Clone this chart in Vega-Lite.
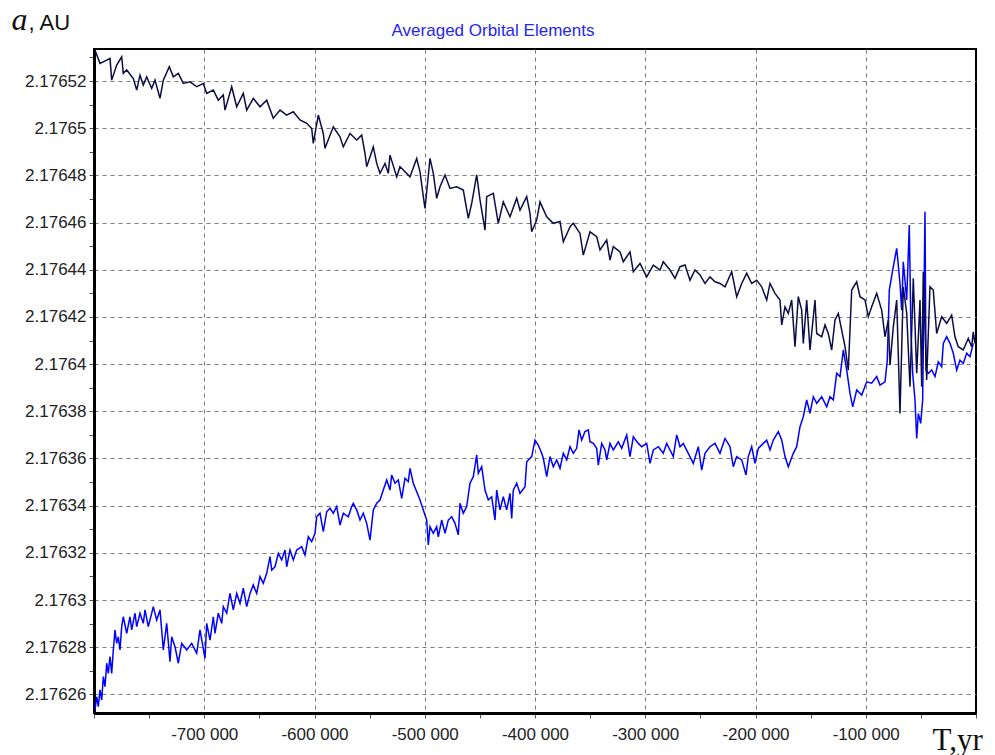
{
"$schema": "https://vega.github.io/schema/vega-lite/v6.json",
"width": 882, "height": 664,
"autosize": "none",
"padding": {"left": 94, "top": 49, "right": 19, "bottom": 42},
"background": "white",
"title": {"text": "Averaged Orbital Elements", "color": "#2626f2", "font": "Liberation Sans", "fontSize": 17, "fontWeight": "normal", "anchor": "middle", "offset": -37, "dx": -42},
"datasets": {
"dark": [
{"t":-799100,"a":2.1765331},{"t":-794560,"a":2.1765275},{"t":-788480,"a":2.1765289},{"t":-785490,"a":2.1765296},{"t":-783950,"a":2.1765204},{"t":-779410,"a":2.1765268},{"t":-774880,"a":2.1765303},{"t":-773420,"a":2.1765233},{"t":-770340,"a":2.1765247},{"t":-764360,"a":2.1765211},{"t":-761270,"a":2.1765162},{"t":-758280,"a":2.1765225},{"t":-755280,"a":2.1765183},{"t":-752200,"a":2.1765218},{"t":-747670,"a":2.1765169},{"t":-744670,"a":2.1765204},{"t":-740140,"a":2.1765127},{"t":-737140,"a":2.1765204},{"t":-731700,"a":2.1765261},{"t":-728070,"a":2.1765218},{"t":-723540,"a":2.1765233},{"t":-719000,"a":2.176519},{"t":-712930,"a":2.1765197},{"t":-706850,"a":2.1765176},{"t":-700860,"a":2.176519},{"t":-697780,"a":2.1765148},{"t":-691790,"a":2.1765162},{"t":-687260,"a":2.1765119},{"t":-682720,"a":2.1765141},{"t":-681180,"a":2.1765077},{"t":-675100,"a":2.1765176},{"t":-670570,"a":2.1765091},{"t":-664580,"a":2.1765148},{"t":-661500,"a":2.1765077},{"t":-655510,"a":2.1765127},{"t":-649430,"a":2.1765091},{"t":-643360,"a":2.1765119},{"t":-637370,"a":2.1765042},{"t":-631290,"a":2.1765077},{"t":-625220,"a":2.1765056},{"t":-619230,"a":2.176507},{"t":-613150,"a":2.1765035},{"t":-607080,"a":2.1765021},{"t":-602540,"a":2.1764999},{"t":-601090,"a":2.1764936},{"t":-596550,"a":2.1765056},{"t":-592020,"a":2.1764978},{"t":-590480,"a":2.1764915},{"t":-582950,"a":2.1765006},{"t":-576870,"a":2.1764964},{"t":-573880,"a":2.1764921},{"t":-567800,"a":2.1764978},{"t":-561720,"a":2.176495},{"t":-557190,"a":2.1764971},{"t":-554190,"a":2.1764894},{"t":-552650,"a":2.1764837},{"t":-546670,"a":2.1764921},{"t":-543580,"a":2.1764851},{"t":-540590,"a":2.1764809},{"t":-536050,"a":2.1764851},{"t":-533060,"a":2.1764809},{"t":-531520,"a":2.1764886},{"t":-525440,"a":2.1764794},{"t":-522450,"a":2.1764837},{"t":-517910,"a":2.1764816},{"t":-513380,"a":2.1764794},{"t":-507300,"a":2.1764872},{"t":-504310,"a":2.1764816},{"t":-501310,"a":2.176471},{"t":-499770,"a":2.176466},{"t":-495240,"a":2.1764872},{"t":-492240,"a":2.1764809},{"t":-489160,"a":2.1764703},{"t":-486170,"a":2.1764752},{"t":-481630,"a":2.1764802},{"t":-477100,"a":2.1764745},{"t":-471020,"a":2.1764752},{"t":-465030,"a":2.1764738},{"t":-460500,"a":2.1764618},{"t":-457410,"a":2.1764682},{"t":-452880,"a":2.1764802},{"t":-449890,"a":2.1764696},{"t":-445350,"a":2.1764568},{"t":-443810,"a":2.176471},{"t":-437820,"a":2.1764724},{"t":-433290,"a":2.1764597},{"t":-428750,"a":2.1764688},{"t":-422680,"a":2.1764625},{"t":-416600,"a":2.1764703},{"t":-413600,"a":2.1764653},{"t":-407530,"a":2.176471},{"t":-404530,"a":2.1764639},{"t":-402990,"a":2.1764561},{"t":-398460,"a":2.1764611},{"t":-395460,"a":2.1764688},{"t":-389390,"a":2.1764625},{"t":-383400,"a":2.1764597},{"t":-377320,"a":2.1764605},{"t":-374330,"a":2.1764519},{"t":-368250,"a":2.1764582},{"t":-365260,"a":2.1764597},{"t":-359180,"a":2.1764554},{"t":-356190,"a":2.1764462},{"t":-350110,"a":2.1764561},{"t":-344040,"a":2.176454},{"t":-341040,"a":2.1764484},{"t":-334970,"a":2.1764526},{"t":-331970,"a":2.1764441},{"t":-328980,"a":2.1764498},{"t":-322900,"a":2.1764476},{"t":-319910,"a":2.1764434},{"t":-313830,"a":2.1764476},{"t":-310840,"a":2.1764392},{"t":-304760,"a":2.1764427},{"t":-298680,"a":2.176437},{"t":-292700,"a":2.176442},{"t":-286620,"a":2.1764399},{"t":-283630,"a":2.1764434},{"t":-277550,"a":2.1764399},{"t":-273020,"a":2.1764364},{"t":-268480,"a":2.1764413},{"t":-263950,"a":2.176442},{"t":-259410,"a":2.1764356},{"t":-254870,"a":2.1764399},{"t":-250340,"a":2.1764378},{"t":-245800,"a":2.1764342},{"t":-241270,"a":2.176437},{"t":-236730,"a":2.1764349},{"t":-232200,"a":2.1764342},{"t":-227660,"a":2.1764328},{"t":-221590,"a":2.1764392},{"t":-217050,"a":2.1764286},{"t":-212520,"a":2.1764342},{"t":-207980,"a":2.1764385},{"t":-203450,"a":2.1764342},{"t":-198910,"a":2.1764356},{"t":-194380,"a":2.1764328},{"t":-189840,"a":2.1764272},{"t":-186850,"a":2.1764342},{"t":-182310,"a":2.17643},{"t":-177780,"a":2.1764272},{"t":-176240,"a":2.1764166},{"t":-173240,"a":2.1764243},{"t":-170250,"a":2.1764215},{"t":-167170,"a":2.1764272},{"t":-164170,"a":2.1764074},{"t":-161180,"a":2.1764286},{"t":-158100,"a":2.1764229},{"t":-156650,"a":2.1764088},{"t":-153560,"a":2.1764272},{"t":-150570,"a":2.176406},{"t":-146030,"a":2.1764272},{"t":-144490,"a":2.176413},{"t":-139960,"a":2.1764116},{"t":-136960,"a":2.1764166},{"t":-133970,"a":2.176413},{"t":-130890,"a":2.176406},{"t":-127900,"a":2.1764187},{"t":-124900,"a":2.1764215},{"t":-121820,"a":2.1764144},{"t":-118820,"a":2.1764074},{"t":-115830,"a":2.1763975},{"t":-112750,"a":2.1764314},{"t":-108210,"a":2.1764349},{"t":-105220,"a":2.1764286},{"t":-100690,"a":2.1764272},{"t":-97690,"a":2.1764201},{"t":-94610,"a":2.1764243},{"t":-90070,"a":2.17643},{"t":-85540,"a":2.1764229},{"t":-82550,"a":2.1764116},{"t":-79550,"a":2.1764187},{"t":-78010,"a":2.1763996},{"t":-75020,"a":2.1764158},{"t":-71930,"a":2.1764272},{"t":-68940,"a":2.1763791},{"t":-65950,"a":2.1764328},{"t":-62860,"a":2.1764215},{"t":-59870,"a":2.1763904},{"t":-56880,"a":2.1764364},{"t":-53790,"a":2.1763961},{"t":-50800,"a":2.1764272},{"t":-49260,"a":2.1763904},{"t":-47830,"a":2.1764392},{"t":-44740,"a":2.1763933},{"t":-41750,"a":2.1764328},{"t":-38750,"a":2.1764314},{"t":-35670,"a":2.176413},{"t":-31140,"a":2.1764201},{"t":-26600,"a":2.1764173},{"t":-22070,"a":2.1764208},{"t":-19070,"a":2.1764116},{"t":-16080,"a":2.1764074},{"t":-11540,"a":2.176406},{"t":-7010,"a":2.1764109},{"t":-3930,"a":2.1764074},{"t":-2470,"a":2.1764137},{"t":-930,"a":2.1764088}
],
"blue": [
{"t":-799090,"a":2.1762534},{"t":-797550,"a":2.176259},{"t":-796100,"a":2.1762548},{"t":-794560,"a":2.1762619},{"t":-793020,"a":2.1762576},{"t":-791560,"a":2.1762675},{"t":-790020,"a":2.1762633},{"t":-788480,"a":2.1762732},{"t":-787030,"a":2.1762689},{"t":-785490,"a":2.176276},{"t":-783950,"a":2.1762689},{"t":-782490,"a":2.1762788},{"t":-780950,"a":2.1762873},{"t":-779410,"a":2.1762816},{"t":-777960,"a":2.1762844},{"t":-776420,"a":2.1762788},{"t":-774880,"a":2.1762887},{"t":-773420,"a":2.1762929},{"t":-770340,"a":2.1762859},{"t":-767350,"a":2.1762929},{"t":-765810,"a":2.1762873},{"t":-762810,"a":2.1762944},{"t":-761270,"a":2.1762887},{"t":-758280,"a":2.1762944},{"t":-755280,"a":2.1762901},{"t":-753740,"a":2.1762958},{"t":-750750,"a":2.1762887},{"t":-747670,"a":2.1762944},{"t":-746210,"a":2.1762972},{"t":-743130,"a":2.1762915},{"t":-740140,"a":2.1762958},{"t":-738600,"a":2.1762873},{"t":-737140,"a":2.1762788},{"t":-734060,"a":2.1762901},{"t":-731070,"a":2.1762739},{"t":-729530,"a":2.1762844},{"t":-726530,"a":2.1762802},{"t":-723540,"a":2.1762732},{"t":-720450,"a":2.1762816},{"t":-715920,"a":2.1762788},{"t":-711380,"a":2.1762816},{"t":-706850,"a":2.1762774},{"t":-703860,"a":2.1762873},{"t":-699320,"a":2.1762753},{"t":-697780,"a":2.1762901},{"t":-694780,"a":2.176283},{"t":-691790,"a":2.1762929},{"t":-690250,"a":2.1762859},{"t":-687260,"a":2.1762944},{"t":-684170,"a":2.1762901},{"t":-682720,"a":2.1762972},{"t":-679630,"a":2.1762944},{"t":-676640,"a":2.1763028},{"t":-673650,"a":2.1762958},{"t":-670570,"a":2.1763028},{"t":-667570,"a":2.1762986},{"t":-664580,"a":2.176305},{"t":-661500,"a":2.1762972},{"t":-658500,"a":2.1763028},{"t":-655510,"a":2.1763064},{"t":-652430,"a":2.1763028},{"t":-649430,"a":2.1763099},{"t":-646440,"a":2.1763071},{"t":-643360,"a":2.1763113},{"t":-640360,"a":2.1763184},{"t":-638820,"a":2.1763127},{"t":-635830,"a":2.1763141},{"t":-632830,"a":2.1763198},{"t":-629750,"a":2.176317},{"t":-626760,"a":2.1763212},{"t":-625220,"a":2.1763141},{"t":-622220,"a":2.1763212},{"t":-619230,"a":2.176317},{"t":-616150,"a":2.1763212},{"t":-611610,"a":2.1763226},{"t":-608620,"a":2.1763191},{"t":-605620,"a":2.1763268},{"t":-602540,"a":2.1763247},{"t":-599550,"a":2.1763283},{"t":-598010,"a":2.1763353},{"t":-595010,"a":2.1763368},{"t":-592020,"a":2.176329},{"t":-588940,"a":2.1763374},{"t":-585940,"a":2.1763389},{"t":-582950,"a":2.1763368},{"t":-579870,"a":2.1763396},{"t":-576870,"a":2.1763318},{"t":-573880,"a":2.1763368},{"t":-569340,"a":2.1763353},{"t":-566260,"a":2.1763396},{"t":-564810,"a":2.176341},{"t":-561720,"a":2.1763382},{"t":-558730,"a":2.1763339},{"t":-555740,"a":2.1763368},{"t":-552650,"a":2.1763325},{"t":-549660,"a":2.1763254},{"t":-546670,"a":2.1763382},{"t":-543580,"a":2.176341},{"t":-540590,"a":2.1763424},{"t":-537590,"a":2.1763466},{"t":-534510,"a":2.1763509},{"t":-531520,"a":2.1763466},{"t":-529980,"a":2.176353},{"t":-526980,"a":2.1763495},{"t":-523990,"a":2.1763509},{"t":-520910,"a":2.1763431},{"t":-517910,"a":2.1763516},{"t":-514920,"a":2.1763502},{"t":-513380,"a":2.1763558},{"t":-510390,"a":2.1763495},{"t":-507300,"a":2.1763459},{"t":-504310,"a":2.1763424},{"t":-501310,"a":2.1763382},{"t":-498230,"a":2.1763339},{"t":-496780,"a":2.1763233},{"t":-495240,"a":2.1763311},{"t":-492240,"a":2.1763283},{"t":-489160,"a":2.1763311},{"t":-487710,"a":2.1763268},{"t":-484630,"a":2.1763339},{"t":-481630,"a":2.1763283},{"t":-478640,"a":2.1763339},{"t":-475560,"a":2.1763353},{"t":-472560,"a":2.1763325},{"t":-469570,"a":2.1763276},{"t":-468030,"a":2.176341},{"t":-465030,"a":2.1763368},{"t":-461950,"a":2.1763396},{"t":-458960,"a":2.1763495},{"t":-455960,"a":2.1763523},{"t":-452880,"a":2.1763615},{"t":-451430,"a":2.1763537},{"t":-448350,"a":2.1763565},{"t":-445350,"a":2.1763466},{"t":-442360,"a":2.1763424},{"t":-439280,"a":2.1763438},{"t":-436280,"a":2.1763339},{"t":-434740,"a":2.1763466},{"t":-431750,"a":2.1763382},{"t":-428750,"a":2.1763438},{"t":-425670,"a":2.1763382},{"t":-422680,"a":2.1763452},{"t":-421140,"a":2.1763346},{"t":-419690,"a":2.1763466},{"t":-416600,"a":2.1763495},{"t":-413600,"a":2.1763452},{"t":-409070,"a":2.176348},{"t":-407530,"a":2.1763586},{"t":-402990,"a":2.1763608},{"t":-400000,"a":2.1763678},{"t":-397010,"a":2.1763657},{"t":-393920,"a":2.1763622},{"t":-392470,"a":2.1763601},{"t":-389390,"a":2.1763523},{"t":-386400,"a":2.1763608},{"t":-383400,"a":2.1763565},{"t":-380320,"a":2.1763594},{"t":-377320,"a":2.1763558},{"t":-374330,"a":2.1763622},{"t":-371250,"a":2.1763594},{"t":-368250,"a":2.176365},{"t":-365260,"a":2.1763622},{"t":-362180,"a":2.1763643},{"t":-360090,"a":2.1763721},{"t":-357640,"a":2.1763678},{"t":-354650,"a":2.1763714},{"t":-351650,"a":2.1763721},{"t":-350110,"a":2.1763671},{"t":-347120,"a":2.1763664},{"t":-344040,"a":2.1763643},{"t":-342590,"a":2.1763572},{"t":-339500,"a":2.1763664},{"t":-336510,"a":2.1763636},{"t":-334970,"a":2.1763594},{"t":-331970,"a":2.1763664},{"t":-328980,"a":2.1763636},{"t":-324440,"a":2.1763671},{"t":-321360,"a":2.1763643},{"t":-316830,"a":2.17637},{"t":-313830,"a":2.1763608},{"t":-310840,"a":2.1763692},{"t":-306300,"a":2.1763664},{"t":-303220,"a":2.176365},{"t":-298680,"a":2.1763664},{"t":-295690,"a":2.1763579},{"t":-292700,"a":2.1763636},{"t":-288160,"a":2.176365},{"t":-283630,"a":2.1763622},{"t":-280540,"a":2.1763664},{"t":-277550,"a":2.1763636},{"t":-274560,"a":2.1763608},{"t":-271470,"a":2.17637},{"t":-268480,"a":2.176365},{"t":-265490,"a":2.1763664},{"t":-260950,"a":2.1763622},{"t":-256420,"a":2.1763579},{"t":-251880,"a":2.176365},{"t":-248800,"a":2.1763551},{"t":-245800,"a":2.1763622},{"t":-241270,"a":2.176365},{"t":-236730,"a":2.1763664},{"t":-232200,"a":2.1763622},{"t":-227660,"a":2.1763685},{"t":-223130,"a":2.176365},{"t":-220130,"a":2.1763565},{"t":-217050,"a":2.1763608},{"t":-212520,"a":2.1763594},{"t":-208620,"a":2.176353},{"t":-206530,"a":2.1763608},{"t":-203450,"a":2.176365},{"t":-200460,"a":2.1763579},{"t":-197460,"a":2.1763643},{"t":-192930,"a":2.1763664},{"t":-189840,"a":2.1763678},{"t":-186850,"a":2.1763636},{"t":-183860,"a":2.1763678},{"t":-179320,"a":2.1763714},{"t":-176240,"a":2.1763678},{"t":-173240,"a":2.1763608},{"t":-170250,"a":2.1763565},{"t":-165720,"a":2.1763622},{"t":-162630,"a":2.176365},{"t":-159640,"a":2.1763735},{"t":-156650,"a":2.1763777},{"t":-153560,"a":2.1763848},{"t":-150570,"a":2.1763791},{"t":-147570,"a":2.1763862},{"t":-144490,"a":2.1763834},{"t":-139960,"a":2.1763862},{"t":-135420,"a":2.1763819},{"t":-132420,"a":2.1763862},{"t":-129430,"a":2.1763848},{"t":-126350,"a":2.1763961},{"t":-123350,"a":2.1763947},{"t":-120360,"a":2.176406},{"t":-117270,"a":2.1763975},{"t":-114280,"a":2.1763876},{"t":-111830,"a":2.1763819},{"t":-108210,"a":2.176389},{"t":-103670,"a":2.1763869},{"t":-99140,"a":2.1763925},{"t":-94610,"a":2.1763919},{"t":-90070,"a":2.1763947},{"t":-87070,"a":2.1763911},{"t":-82550,"a":2.1763925},{"t":-80460,"a":2.1764017},{"t":-78640,"a":2.1764314},{"t":-75560,"a":2.1764399},{"t":-71930,"a":2.1764491},{"t":-68940,"a":2.1764343},{"t":-67400,"a":2.1764229},{"t":-65950,"a":2.1764434},{"t":-62860,"a":2.1764272},{"t":-60510,"a":2.176459},{"t":-58960,"a":2.1764131},{"t":-57420,"a":2.1763961},{"t":-55330,"a":2.1763848},{"t":-53790,"a":2.1763685},{"t":-52340,"a":2.1763791},{"t":-50170,"a":2.1763749},{"t":-48360,"a":2.1763848},{"t":-46270,"a":2.1764646},{"t":-45360,"a":2.1763975},{"t":-43280,"a":2.1763961},{"t":-40190,"a":2.1763975},{"t":-37200,"a":2.1763947},{"t":-34200,"a":2.176401},{"t":-31110,"a":2.1763989},{"t":-29660,"a":2.1764088},{"t":-26600,"a":2.1764116},{"t":-23590,"a":2.1764088},{"t":-20600,"a":2.1764046},{"t":-17520,"a":2.1763975},{"t":-14530,"a":2.1764017},{"t":-11540,"a":2.1764003},{"t":-8460,"a":2.1764046},{"t":-5450,"a":2.1764031},{"t":-2470,"a":2.1764088}
]
},
"layer": [
{
"data": {"name": "blue"},
"mark": {"type": "line", "color": "#0000ff", "strokeWidth": 1.5, "clip": true},
"encoding": {
"x": {"field": "t", "type": "quantitative",
"scale": {"domain": [-800000, 0], "nice": false, "zero": false},
"axis": {
"values": [-800000,-775000,-750000,-725000,-700000,-675000,-650000,-625000,-600000,-575000,-550000,-525000,-500000,-475000,-450000,-425000,-400000,-375000,-350000,-325000,-300000,-275000,-250000,-225000,-200000,-175000,-150000,-125000,-100000,-75000,-50000,-25000,0],
"labelExpr": "datum.value % 100000 == 0 && datum.value > -800000 && datum.value < 0 ? '-' + replace(format(-datum.value, ','), ',', ' ') : ''",
"labelOverlap": false, "labelFlush": false,
"labelFont": "Liberation Sans", "labelFontSize": 17, "labelColor": "#222", "labelPadding": 8,
"grid": true,
"gridOpacity": {"condition": {"test": "datum.value % 100000 == 0 && datum.value > -800000 && datum.value < 0", "value": 1}, "value": 0},
"gridColor": "#7a7a7a", "gridDash": [4, 4], "gridWidth": 1,
"domainColor": "#000", "domainWidth": 3,
"tickColor": "#555", "tickSize": 5, "tickWidth": 1,
"title": "T,yr", "titleFont": "Liberation Serif", "titleFontSize": 31, "titleFontWeight": "normal", "titleColor": "#111",
"titleAlign": "left", "titleBaseline": "alphabetic", "titleX": 838, "titleY": 36
}},
"y": {"field": "a", "type": "quantitative",
"scale": {"domain": [2.1762521, 2.1765336], "nice": false, "zero": false},
"axis": {
"values": [2.17626,2.17627,2.17628,2.17629,2.1763,2.17631,2.17632,2.17633,2.17634,2.17635,2.17636,2.17637,2.17638,2.17639,2.1764,2.17641,2.17642,2.17643,2.17644,2.17645,2.17646,2.17647,2.17648,2.17649,2.1765,2.17651,2.17652,2.17653],
"labelExpr": "round(datum.value * 100000) % 2 == 0 ? format(datum.value, '.5~f') : ''",
"labelOverlap": false, "labelFlush": false,
"labelFont": "Liberation Sans", "labelFontSize": 17, "labelColor": "#222", "labelPadding": 3,
"grid": true,
"gridOpacity": {"condition": {"test": "round(datum.value * 100000) % 2 == 0", "value": 1}, "value": 0},
"gridColor": "#7a7a7a", "gridDash": [4, 4], "gridWidth": 1,
"domainColor": "#000", "domainWidth": 3,
"tickColor": "#555", "tickSize": 5, "tickWidth": 1,
"title": "a", "titleFont": "Liberation Serif", "titleFontStyle": "italic", "titleFontSize": 32, "titleFontWeight": "normal", "titleColor": "#111",
"titleAngle": 0, "titleAlign": "left", "titleBaseline": "alphabetic", "titleX": -83, "titleY": -20
}}
}
},
{
"data": {"name": "dark"},
"mark": {"type": "line", "color": "#0d0d45", "strokeWidth": 1.5, "clip": true},
"encoding": {
"x": {"field": "t", "type": "quantitative"},
"y": {"field": "a", "type": "quantitative",
"axis": {"orient": "right", "domain": false, "ticks": false, "labels": false, "grid": false,
"title": ", AU", "titleFont": "Liberation Sans", "titleFontSize": 22, "titleFontWeight": "normal", "titleColor": "#111",
"titleAngle": 0, "titleAlign": "left", "titleBaseline": "alphabetic", "titleX": -948, "titleY": -20}}
}
}
],
"resolve": {"axis": {"y": "independent"}},
"config": {"view": {"stroke": "#000", "strokeWidth": 2}}
}
